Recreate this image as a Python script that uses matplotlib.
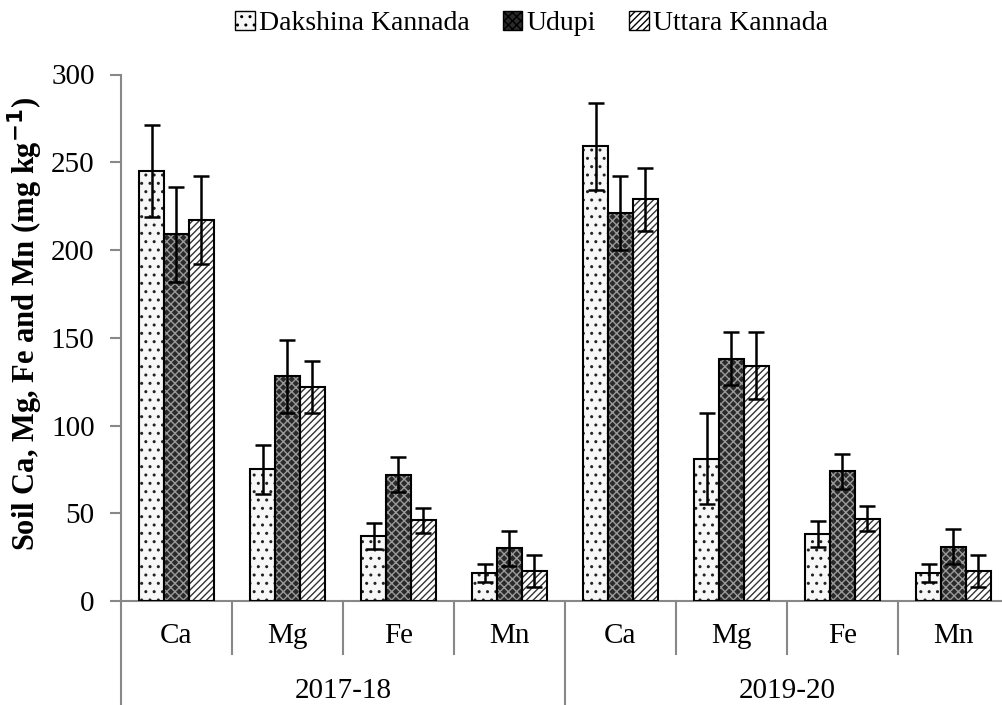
import matplotlib
matplotlib.use('Agg')
import matplotlib.pyplot as plt
import matplotlib.patches as mpatches
import matplotlib.transforms as mtransforms
import numpy as np

plt.rcParams['font.family'] = ['Liberation Serif', 'DejaVu Serif']
plt.rcParams['hatch.linewidth'] = 1.0

nutrients = ['Ca', 'Mg', 'Fe', 'Mn', 'Ca', 'Mg', 'Fe', 'Mn']
years = ['2017-18', '2019-20']
districts = ['Dakshina Kannada', 'Udupi', 'Uttara Kannada']

dakshina = [245, 75, 37, 16, 259, 81, 38, 16]
udupi = [209, 128, 72, 30, 221, 138, 74, 31]
uttara = [217, 122, 46, 17, 229, 134, 47, 17]

dakshina_err = [26, 14, 7.5, 5, 25, 26, 7.5, 5]
udupi_err = [27, 21, 10, 10, 21, 15, 10, 10]
uttara_err = [25, 15, 7, 9, 18, 19, 7, 9]

# стили заливки для каждого района
styles = [
    dict(face='#f7f7f7', hatch='..', hcol='#222222'),
    dict(face='#2a2a2a', hatch='xxxx', hcol='#9a9a9a'),
    dict(face='white', hatch='/////', hcol='#333333'),
]

fig = plt.figure(figsize=(10.03, 7.05), dpi=100)
ax = fig.add_axes([121 / 1003, 1 - 601 / 705, 888 / 1003, 526.5 / 705])

x = np.arange(len(nutrients))
w = 0.225
series = [dakshina, udupi, uttara]
errs = [dakshina_err, udupi_err, uttara_err]

handles = []
for i, (vals, err, st) in enumerate(zip(series, errs, styles)):
    pos = x + (i - 1) * w
    # заливка со штриховкой, потом контур
    ax.bar(pos, vals, w, color=st['face'], hatch=st['hatch'],
           edgecolor=st['hcol'], linewidth=0, zorder=2)
    ax.bar(pos, vals, w, facecolor='none', edgecolor='black',
           linewidth=1.5, zorder=3)
    ax.errorbar(pos, vals, yerr=err, fmt='none', ecolor='black',
                elinewidth=1.8, capsize=5.5, capthick=1.8, zorder=4)
    handles.append(mpatches.Patch(facecolor=st['face'], hatch=st['hatch'],
                                  edgecolor=st['hcol'], linewidth=0))

ax.set_xlim(-0.5, 7.5)
ax.set_ylim(0, 300)
ax.set_yticks(range(0, 301, 50))
ax.tick_params(axis='y', labelsize=21, color='#888888', length=8, width=1.5, pad=11)
ax.spines['top'].set_visible(False)
ax.spines['right'].set_visible(False)
ax.spines['left'].set_color('#888888')
ax.spines['bottom'].set_color('#888888')
ax.spines['left'].set_linewidth(1.5)
ax.spines['bottom'].set_linewidth(1.5)

ax.set_xticks(x)
ax.set_xticklabels(nutrients, fontsize=21)
ax.tick_params(axis='x', length=0, pad=16)

# разделители категорий под осью
trans = mtransforms.blended_transform_factory(ax.transData, ax.transAxes)
for b in np.arange(-0.5, 8, 1):
    if b in (-0.5, 3.5, 7.5):
        ax.plot([b, b], [0, -0.2], transform=trans, color='#888888',
                lw=1.5, clip_on=False)
    else:
        ax.plot([b, b], [0, -0.1], transform=trans, color='#888888',
                lw=1.5, clip_on=False)
for j, yr in enumerate(years):
    ax.text(1.5 + 4 * j, -0.17, yr, transform=trans, ha='center',
            va='center', fontsize=21)

ax.set_ylabel('Soil Ca, Mg, Fe and Mn (mg kg$^{\\mathbf{-1}}$)',
              fontsize=22, fontweight='bold')
ax.yaxis.set_label_coords(-0.086, 0.526)

leg = fig.legend(handles, districts, loc='upper center', ncol=3,
                 bbox_to_anchor=(0.53, 1.02), frameon=False, fontsize=20,
                 handlelength=0.7, handleheight=0.7, handletextpad=0.15,
                 columnspacing=1.2)
for p in leg.get_patches():
    p.set_edgecolor('black')
    p.set_linewidth(1)

fig.savefig('out.png', dpi=100)
